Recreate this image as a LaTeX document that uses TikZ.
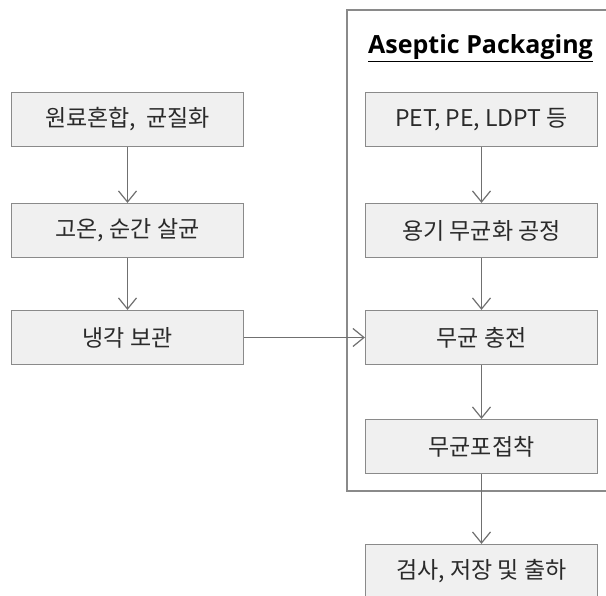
\documentclass[tikz,border=0pt]{standalone}
\usepackage{fontspec}
\setmainfont{Noto Sans CJK KR}
\newfontfamily\titlefont{Open Sans}
\usetikzlibrary{arrows.meta}
\definecolor{boxfill}{HTML}{F0F0F0}
\definecolor{boxline}{HTML}{8A8A8A}
\definecolor{flowline}{HTML}{707070}
\definecolor{txt}{HTML}{2A2A2A}
\tikzset{
  stepbox/.style={draw=boxline, line width=1.2pt, fill=boxfill, text=txt,
    minimum width=232pt, minimum height=54pt, inner sep=0pt,
    font=\fontsize{23}{25}\selectfont},
  flow/.style={draw=flowline, line width=1.2pt,
    -{Straight Barb[length=11pt,width=18pt,line width=1.2pt]}},
}
\begin{document}
\begin{tikzpicture}[x=1pt,y=-1pt]
\clip (0,0) rectangle (606,596);
\fill[white] (0,0) rectangle (606,596);

% Aseptic packaging frame (open to the right)
\draw[boxline, line width=1.2pt] (620,10) -- (347,10) -- (347,491) -- (620,491);
\node[anchor=base west, text=black, inner sep=0pt,
      font=\titlefont\bfseries\fontsize{25}{27}\selectfont] (title) at (368,54)
      {\underline{Aseptic Packaging}};

% left column
\node[stepbox] (mix)  at (127.5,119.5) {원료혼합,\ \ 균질화};
\node[stepbox] (ster) at (127.5,230.5) {고온, 순간 살균};
\node[stepbox] (cool) at (127.5,337.5) {냉각 보관};

% right column
\node[stepbox] (mat)  at (481.5,119.5) {PET, PE, LDPT 등};
\node[stepbox] (cont) at (481.5,230.5) {용기 무균화 공정};
\node[stepbox] (fill) at (481.5,337.5) {무균 충전};
\node[stepbox] (seal) at (481.5,446.5) {무균포접착};
\node[stepbox] (ship) at (481.5,571.5) {검사, 저장 및 출하};

% connectors
\draw[flow] (mix) -- (ster);
\draw[flow] (ster) -- (cool);
\draw[flow] (cool) -- (fill);
\draw[flow] (mat) -- (cont);
\draw[flow] (cont) -- (fill);
\draw[flow] (fill) -- (seal);
\draw[flow] (seal) -- (ship);
\end{tikzpicture}
\end{document}
